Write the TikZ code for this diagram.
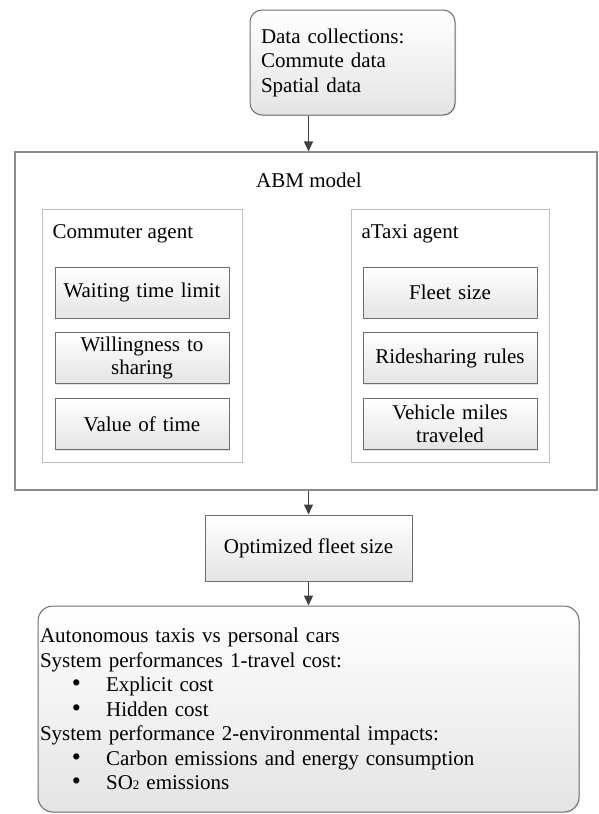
\documentclass[tikz,border=0pt]{standalone}
\usepackage{fontspec}
\setmainfont{Liberation Serif}
\usetikzlibrary{arrows.meta,shadows}
\definecolor{abmedge}{HTML}{8C8C8C}
\definecolor{agentedge}{HTML}{BFBFBF}
\definecolor{boxedge}{HTML}{6E6E6E}
\definecolor{arrowgray}{HTML}{404040}
\definecolor{shadegray}{HTML}{E4E4E4}

\tikzset{
  shadedbox/.style={draw=boxedge, line width=1pt, top color=white, bottom color=shadegray,
    drop shadow={shadow xshift=1pt, shadow yshift=-1pt, opacity=0.25}},
  itembox/.style={shadedbox, minimum width=174pt, minimum height=51pt, inner sep=2pt,
    align=center, text width=170pt},
  agentbox/.style={draw=agentedge, line width=0.8pt, fill=white, minimum width=200pt, minimum height=253pt},
  flow/.style={->, arrowgray, line width=1.4pt}
}
\newcommand{\itemdot}{\hspace*{32pt}{\fontsize{26}{20}\selectfont\textbullet}\hspace*{25pt}}

\begin{document}
\begin{tikzpicture}[x=1pt, y=-1pt, >={Triangle[length=10pt, width=9pt]},
  font=\fontsize{21}{24.5}\selectfont]
  \useasboundingbox (0,0) rectangle (598,814);
  % data input
  \node[shadedbox, rounded corners=12pt, minimum width=205pt, minimum height=105pt,
    text width=183pt, align=left] (data) at (352.5,62.5)
    {Data collections:\\Commute data\\Spatial data};
  % ABM model frame
  \node[draw=abmedge, line width=1.2pt, minimum width=582pt, minimum height=338pt] (abm) at (306,321) {};
  \node (abmtitle) at (309,180) {ABM model};
  % commuter agent
  \node[agentbox] (commuter) at (142,335.5) {};
  \node[anchor=west] (commutertitle) at (49,234) {Commuter agent};
  \node[itembox] (wait) at (142,292.5) {Waiting time limit};
  \node[itembox, font=\fontsize{21}{22.5}\selectfont] (share) at (142,358) {Willingness to\\sharing};
  \node[itembox] (vot) at (142,424) {Value of time};
  % aTaxi agent
  \node[agentbox, minimum width=198pt] (ataxi) at (450,335.5) {};
  \node[anchor=west] (ataxititle) at (358,234) {aTaxi agent};
  \node[itembox] (fleet) at (450,292.5) {Fleet size};
  \node[itembox] (rules) at (450,358) {Ridesharing rules};
  \node[itembox, font=\fontsize{21}{22.5}\selectfont] (vmt) at (450,424) {Vehicle miles\\traveled};
  % output
  \node[shadedbox, minimum width=207pt, minimum height=66pt] (optimal) at (308.5,548) {Optimized fleet size};
  \node[shadedbox, rounded corners=15pt, minimum width=541pt, minimum height=206pt,
    text width=537pt, align=left, inner sep=2pt] (result) at (308.5,709)
    {Autonomous taxis vs personal cars\\
     System performances 1-travel cost:\\
     \itemdot Explicit cost\\
     \itemdot Hidden cost\\
     System performance 2-environmental impacts:\\
     \itemdot Carbon emissions and energy consumption\\
     \itemdot SO{\fontsize{13}{13}\selectfont 2} emissions};
  % connectors
  \draw[flow] (data.south -| optimal.north) -- (abm.north -| optimal.north);
  \draw[flow] (abm.south -| optimal.north) -- (optimal.north);
  \draw[flow] (optimal.south) -- (result.north);
\end{tikzpicture}
\end{document}
